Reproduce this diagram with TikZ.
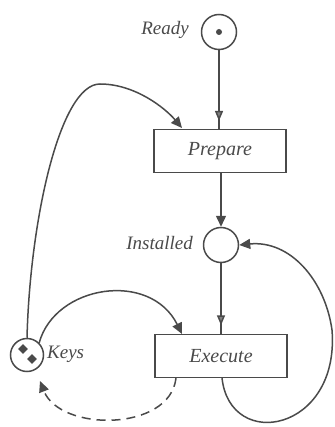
\documentclass[tikz,border=0pt]{standalone}
\usepackage{fontspec}
\setmainfont{Liberation Serif}
\usetikzlibrary{arrows.meta,decorations.markings}
\definecolor{ink}{HTML}{4A4A4A}
\tikzset{
  place/.style={draw=ink, line width=1.5pt, circle, minimum size=35pt, inner sep=0pt},
  trans/.style={draw=ink, line width=1.5pt, rectangle, minimum width=132pt, minimum height=43pt, inner sep=0pt, font=\fontsize{20}{24}\selectfont\itshape, text=ink},
  lbl/.style={font=\fontsize{19}{22}\selectfont\itshape, text=ink, inner sep=0pt},
  token/.style={fill=ink, draw=none, circle, minimum size=7pt, inner sep=0pt},
  conn/.style={draw=ink, line width=1.5pt},
  arr/.style={conn, -{Triangle[length=11pt,width=10pt]}},
  midarr/.style={conn, postaction={decorate}, decoration={markings, mark=at position #1 with {\arrow{Triangle[length=10pt,width=8pt,fill=ink!70]}}}}
}
\begin{document}
\begin{tikzpicture}[x=1pt,y=-1pt]
\useasboundingbox (0,0) rectangle (334,427);
\node[place] (ready) at (219,32) {};
\node[token, minimum size=6pt] (rt) at (219,32) {};
\node[lbl, anchor=east] (readyl) at (189,30) {Ready};
\node[trans] (prepare) at (220,151) {Prepare};
\node[place] (inst) at (221,245) {};
\node[lbl, anchor=east] (instl) at (193,243) {Installed};
\node[trans] (execute) at (221,356) {Execute};
\node[place, minimum size=33pt] (keys) at (27,355) {};
\node[token, minimum size=7pt, rotate=45, rectangle] (k1) at (23,349) {};
\node[token, minimum size=7pt, rotate=45, rectangle] (k2) at (32,359) {};
\node[lbl, anchor=west] (keysl) at (47,354) {Keys};
\draw[midarr=0.9] (ready.south) -- (prepare.north -| ready.south);
\draw[arr] (prepare.south -| inst.north) -- (inst.north);
\draw[midarr=0.88] (inst.south) -- (execute.north -| inst.south);
\draw[arr] (keys.north) .. controls (30,220) and (60,84) .. (100,84) .. controls (135,84) and (165,108) .. (182,128);
\draw[arr] (keys.north east) .. controls (55,285) and (150,270) .. (182,334);
\draw[arr, dash pattern=on 9pt off 6pt] (176,378) .. controls (170,432) and (60,432) .. (40,381);
\draw[arr] (222,378) .. controls (230,452) and (340,432) .. (332,330) .. controls (325,280) and (290,240) .. (inst.east);
\end{tikzpicture}
\end{document}
